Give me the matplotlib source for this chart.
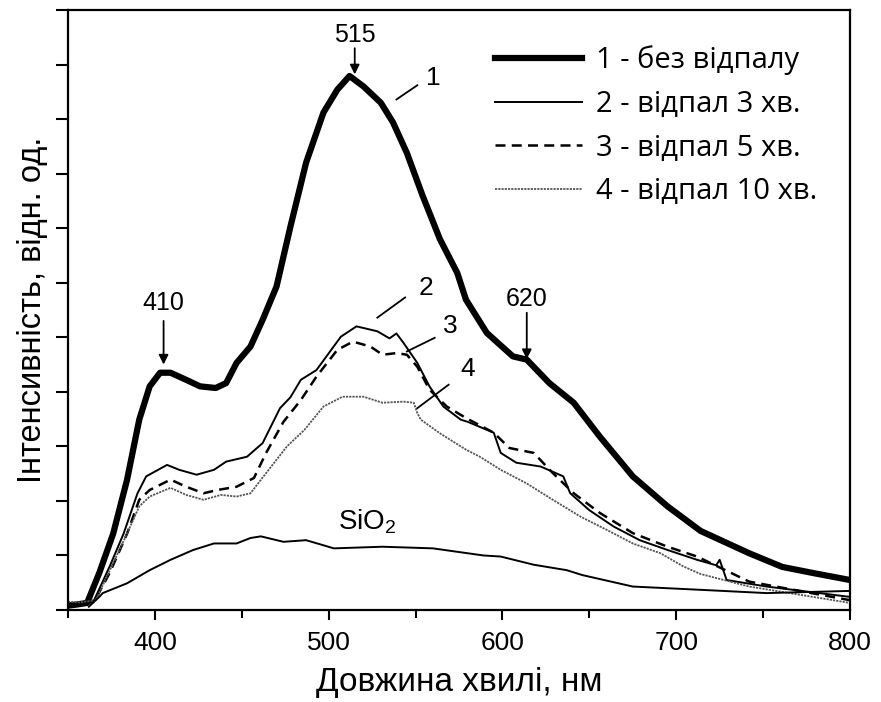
import matplotlib
matplotlib.use('Agg')
import matplotlib.pyplot as plt
from matplotlib.ticker import MultipleLocator

# curve 1 - no annealing (thick)
x1 = [350, 355, 361, 368, 376, 384, 391, 397, 403, 409, 418, 426, 435, 441, 447, 455, 462,
      470, 478, 487, 497, 505, 512, 520, 530, 537, 545, 554, 564, 574, 579, 591, 606, 614,
      627, 641, 656, 675, 695, 714, 742, 761, 780, 800]
y1 = [0.08, 0.10, 0.13, 0.68, 1.40, 2.39, 3.49, 4.10, 4.35, 4.35, 4.22, 4.10, 4.07, 4.16,
      4.53, 4.83, 5.32, 5.93, 7.03, 8.20, 9.12, 9.54, 9.79, 9.60, 9.30, 8.94, 8.38, 7.60,
      6.80, 6.18, 5.69, 5.08, 4.65, 4.59, 4.16, 3.80, 3.18, 2.45, 1.90, 1.45, 1.04, 0.79,
      0.67, 0.55]

# curve 2 - 3 min
x2 = [350, 357, 365, 374, 382, 390, 395, 407, 414, 424, 434, 441, 453, 462, 472, 478, 484,
      493, 507, 516, 528, 535, 539, 543, 551, 558, 566, 576, 580, 595, 599, 608, 622, 635,
      639, 650, 664, 679, 695, 712, 723, 725, 729, 752, 800]
y2 = [0.12, 0.10, 0.18, 0.80, 1.40, 2.14, 2.45, 2.66, 2.57, 2.48, 2.57, 2.72, 2.81, 3.06,
      3.70, 3.90, 4.22, 4.40, 5.01, 5.20, 5.11, 4.98, 5.07, 4.90, 4.53, 4.10, 3.73, 3.49,
      3.45, 3.25, 2.88, 2.70, 2.63, 2.45, 2.14, 1.83, 1.53, 1.28, 1.10, 0.92, 0.82, 0.92,
      0.55, 0.43, 0.24]

# curve 3 - 5 min (dashed)
x3 = [350, 357, 365, 374, 384, 391, 397, 409, 418, 428, 436, 447, 457, 464, 474, 484, 493,
      505, 514, 524, 531, 539, 545, 551, 558, 568, 579, 595, 604, 618, 629, 641, 656, 675,
      695, 712, 742, 800]
y3 = [0.12, 0.10, 0.15, 0.68, 1.40, 2.02, 2.20, 2.39, 2.26, 2.14, 2.20, 2.26, 2.42, 2.88,
      3.45, 3.85, 4.28, 4.77, 4.92, 4.83, 4.68, 4.71, 4.68, 4.46, 4.04, 3.73, 3.52, 3.25,
      2.97, 2.88, 2.51, 2.14, 1.78, 1.41, 1.16, 0.98, 0.52, 0.18]

# curve 4 - 10 min (grey)
x4 = [350, 357, 366, 376, 384, 391, 397, 409, 418, 428, 438, 447, 455, 464, 476, 486, 497,
      508, 520, 531, 543, 549, 551, 553, 564, 579, 587, 599, 614, 629, 645, 660, 675, 691,
      704, 714, 742, 800]
y4 = [0.15, 0.14, 0.18, 0.86, 1.40, 1.90, 2.08, 2.24, 2.11, 2.02, 2.11, 2.08, 2.14, 2.51,
      3.00, 3.30, 3.73, 3.91, 3.91, 3.80, 3.82, 3.80, 3.61, 3.49, 3.24, 2.94, 2.81, 2.57,
      2.32, 2.02, 1.71, 1.47, 1.22, 1.04, 0.80, 0.66, 0.43, 0.13]

# SiO2 reference
xs = [362, 368, 370, 384, 397, 409, 422, 434, 447, 455, 461, 474, 487, 503, 531, 560, 589,
      599, 618, 637, 646, 675, 714, 752, 800]
ys = [0.06, 0.24, 0.31, 0.49, 0.73, 0.92, 1.10, 1.22, 1.22, 1.32, 1.35, 1.25, 1.28, 1.13,
      1.16, 1.13, 1.00, 0.98, 0.83, 0.73, 0.64, 0.43, 0.37, 0.31, 0.35]

labels = ['1 - без відпалу', '2 - відпал 3 хв.', '3 - відпал 5 хв.', '4 - відпал 10 хв.']

fig = plt.figure(figsize=(8.81, 7.02), dpi=100)
ax = fig.add_axes([68 / 881, 92 / 702, 782 / 881, 600 / 702])

ax.plot(x1, y1, color='black', linewidth=4.5, label=labels[0], solid_joinstyle='round')
ax.plot(x2, y2, color='black', linewidth=1.4, label=labels[1])
ax.plot(x3, y3, color='black', linewidth=1.8, linestyle=(0, (4, 2.5)), label=labels[2])
ax.plot(x4, y4, color='#555555', linewidth=1.3, linestyle=(0, (1.2, 0.6)), label=labels[3])
ax.plot(xs, ys, color='black', linewidth=1.4)

ax.set_xlim(350, 800)
ax.set_ylim(0, 11)
ax.xaxis.set_major_locator(MultipleLocator(100))
ax.xaxis.set_minor_locator(MultipleLocator(50))
ax.yaxis.set_major_locator(MultipleLocator(1))
ax.set_yticklabels([])
ax.tick_params(axis='both', which='both', direction='out', width=1.5, colors='black')
ax.tick_params(axis='x', which='major', length=7, pad=8)
ax.tick_params(axis='x', which='minor', length=6)
ax.tick_params(axis='y', length=9)
for s in ax.spines.values():
    s.set_linewidth(1.6)

sans = ['Liberation Sans', 'DejaVu Sans']
for lab in ax.get_xticklabels():
    lab.set_family(sans)
    lab.set_fontsize(19)

ax.set_ylabel('Інтенсивність, відн. од.', fontsize=23.5, family=sans, labelpad=2)
ax.set_xlabel('Довжина хвилі, нм', fontsize=24, family=sans, labelpad=9)

# peak annotations
arr = dict(arrowstyle='-|>', color='black', lw=1.3, mutation_scale=14, shrinkA=0, shrinkB=0)
afont = dict(fontsize=18, family=sans, ha='center', va='bottom')
ax.annotate('', xy=(515, 9.82), xytext=(515, 10.3), arrowprops=arr)
ax.text(515, 10.33, '515', **afont)
ax.annotate('', xy=(405, 4.5), xytext=(405, 5.3), arrowprops=arr)
ax.text(405, 5.4, '410', **afont)
ax.annotate('', xy=(614, 4.6), xytext=(614, 5.45), arrowprops=arr)
ax.text(614, 5.48, '620', **afont)

# curve numbers with leader lines
nfont = dict(fontsize=19, family=sans, ha='center', va='center')
ax.plot([539, 551], [9.36, 9.62], color='black', lw=1.3)
ax.text(560, 9.75, '1', **nfont)
ax.plot([528, 544], [5.36, 5.73], color='black', lw=1.3)
ax.text(556, 5.9, '2', **nfont)
ax.plot([545, 561], [4.74, 4.99], color='black', lw=1.3)
ax.text(570, 5.2, '3', **nfont)
ax.plot([551, 569], [3.70, 4.13], color='black', lw=1.3)
ax.text(580, 4.42, '4', **nfont)
ax.text(522, 1.62, r'SiO$_\mathregular{2}$', fontsize=20, family=sans,
        ha='center', va='center')

leg = ax.legend(loc='upper left', bbox_to_anchor=(0.527, 0.965), frameon=False,
                prop={'family': ['Open Sans', 'DejaVu Sans'], 'size': 21},
                handlelength=3.0, handletextpad=0.48, labelspacing=0.5, borderpad=0)

fig.savefig('out.png', dpi=100)
